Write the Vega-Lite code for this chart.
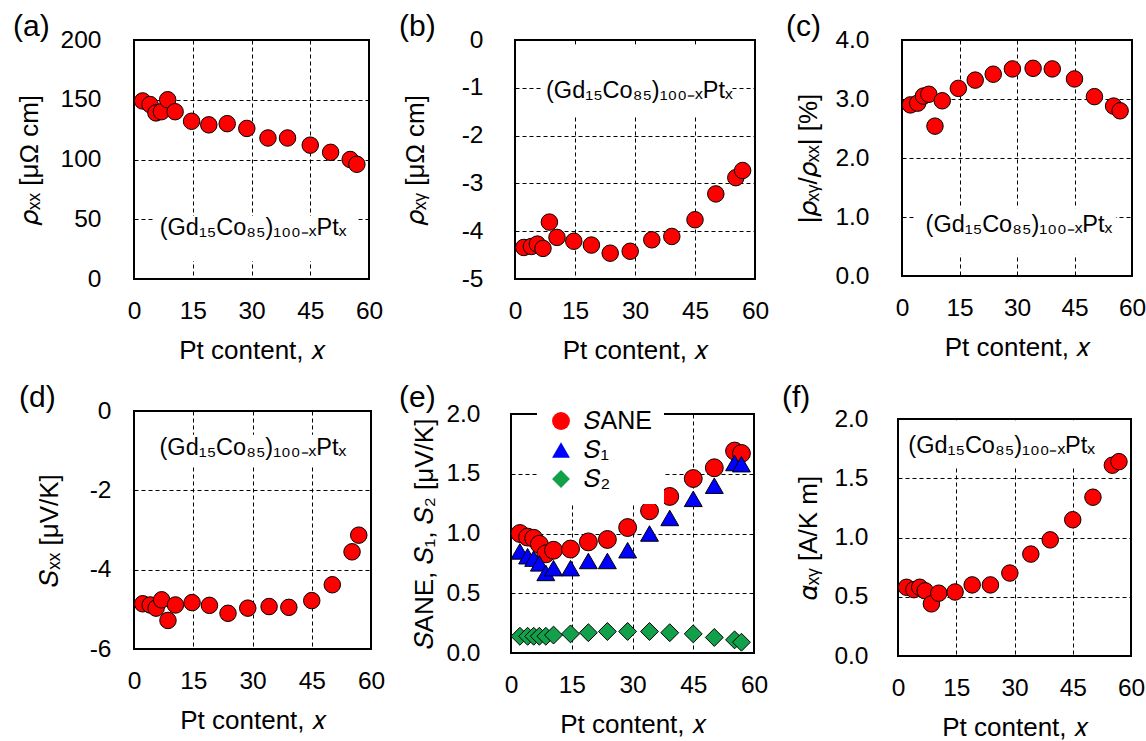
{
  "$schema": "https://vega.github.io/schema/vega-lite/v6.json",
  "padding": {"left": 12, "top": 11, "right": 0, "bottom": 0},
  "background": "white",
  "datasets": {
    "main": [
      {"x": 2.2, "rxx": 149, "rxy": -4.34, "ratio": 2.90, "sxx": -4.86, "axy": 0.58},
      {"x": 4.1, "rxx": 146, "rxy": -4.32, "ratio": 2.93, "sxx": -4.89, "axy": 0.56},
      {"x": 5.6, "rxx": 139, "rxy": -4.27, "ratio": 3.05, "sxx": -4.97, "axy": 0.58},
      {"x": 7.0, "rxx": 140, "rxy": -4.36, "ratio": 3.08, "sxx": -4.76, "axy": 0.55},
      {"x": 8.6, "rxx": 150, "rxy": -3.81, "ratio": 2.54, "sxx": -5.28, "axy": 0.44},
      {"x": 10.5, "rxx": 140, "rxy": -4.13, "ratio": 2.97, "sxx": -4.89, "axy": 0.53},
      {"x": 14.7, "rxx": 132, "rxy": -4.21, "ratio": 3.18, "sxx": -4.83, "axy": 0.54},
      {"x": 19.1, "rxx": 129, "rxy": -4.29, "ratio": 3.32, "sxx": -4.90, "axy": 0.60},
      {"x": 23.8, "rxx": 130, "rxy": -4.46, "ratio": 3.42, "sxx": -5.10, "axy": 0.60},
      {"x": 28.8, "rxx": 126, "rxy": -4.42, "ratio": 3.51, "sxx": -4.97, "axy": 0.70},
      {"x": 34.2, "rxx": 118, "rxy": -4.18, "ratio": 3.52, "sxx": -4.93, "axy": 0.86},
      {"x": 39.2, "rxx": 118, "rxy": -4.11, "ratio": 3.51, "sxx": -4.95, "axy": 0.98},
      {"x": 45.0, "rxx": 112, "rxy": -3.76, "ratio": 3.34, "sxx": -4.78, "axy": 1.15},
      {"x": 50.2, "rxx": 106, "rxy": -3.22, "ratio": 3.04, "sxx": -4.38, "axy": 1.34},
      {"x": 55.2, "rxx": 100, "rxy": -2.88, "ratio": 2.88, "sxx": -3.55, "axy": 1.61},
      {"x": 56.9, "rxx": 96, "rxy": -2.73, "ratio": 2.80, "sxx": -3.13, "axy": 1.64}
    ],
    "seebeck": [
      {"series": "SANE", "x": 2.2, "v": 1.00},
      {"series": "SANE", "x": 4.1, "v": 0.97},
      {"series": "SANE", "x": 5.6, "v": 0.96},
      {"series": "SANE", "x": 7.0, "v": 0.91},
      {"series": "SANE", "x": 8.6, "v": 0.83},
      {"series": "SANE", "x": 10.5, "v": 0.86},
      {"series": "SANE", "x": 14.7, "v": 0.87},
      {"series": "SANE", "x": 19.1, "v": 0.93},
      {"series": "SANE", "x": 23.8, "v": 0.95},
      {"series": "SANE", "x": 28.8, "v": 1.05},
      {"series": "SANE", "x": 34.2, "v": 1.19},
      {"series": "SANE", "x": 39.2, "v": 1.31},
      {"series": "SANE", "x": 45.0, "v": 1.46},
      {"series": "SANE", "x": 50.2, "v": 1.55},
      {"series": "SANE", "x": 55.2, "v": 1.69},
      {"series": "SANE", "x": 56.9, "v": 1.67},
      {"series": "S1", "x": 2.2, "v": 0.85},
      {"series": "S1", "x": 4.1, "v": 0.81},
      {"series": "S1", "x": 5.6, "v": 0.79},
      {"series": "S1", "x": 7.0, "v": 0.75},
      {"series": "S1", "x": 8.6, "v": 0.67},
      {"series": "S1", "x": 10.5, "v": 0.71},
      {"series": "S1", "x": 14.7, "v": 0.71},
      {"series": "S1", "x": 19.1, "v": 0.77},
      {"series": "S1", "x": 23.8, "v": 0.77},
      {"series": "S1", "x": 28.8, "v": 0.86},
      {"series": "S1", "x": 34.2, "v": 1.00},
      {"series": "S1", "x": 39.2, "v": 1.13},
      {"series": "S1", "x": 45.0, "v": 1.29},
      {"series": "S1", "x": 50.2, "v": 1.40},
      {"series": "S1", "x": 55.2, "v": 1.59},
      {"series": "S1", "x": 56.9, "v": 1.58},
      {"series": "S2", "x": 2.2, "v": 0.14},
      {"series": "S2", "x": 4.1, "v": 0.14},
      {"series": "S2", "x": 5.6, "v": 0.14},
      {"series": "S2", "x": 7.0, "v": 0.14},
      {"series": "S2", "x": 8.6, "v": 0.14},
      {"series": "S2", "x": 10.5, "v": 0.15},
      {"series": "S2", "x": 14.7, "v": 0.16},
      {"series": "S2", "x": 19.1, "v": 0.17},
      {"series": "S2", "x": 23.8, "v": 0.18},
      {"series": "S2", "x": 28.8, "v": 0.18},
      {"series": "S2", "x": 34.2, "v": 0.18},
      {"series": "S2", "x": 39.2, "v": 0.17},
      {"series": "S2", "x": 45.0, "v": 0.16},
      {"series": "S2", "x": 50.2, "v": 0.13},
      {"series": "S2", "x": 55.2, "v": 0.11},
      {"series": "S2", "x": 56.9, "v": 0.09}
    ]
  },
  "columns": 3,
  "align": "none",
  "spacing": {"row": 17, "column": 12},
  "resolve": {
    "scale": {"fill": "independent", "shape": "independent"},
    "legend": {"fill": "independent", "shape": "independent"}
  },
  "concat": [
    {
      "width": 235, "height": 239,
      "title": {"text": "(a)", "dx": -121, "dy": 19},
      "layer": [
        {
          "data": {"name": "main"},
          "mark": {"type": "point", "filled": true, "fill": "#FF0000", "stroke": "black", "strokeWidth": 1, "size": 272, "opacity": 1, "shape": "circle"},
          "encoding": {
            "x": {"field": "x", "type": "quantitative", "scale": {"domain": [0, 60], "nice": false, "zero": false}, "axis": {"values": [0, 15, 30, 45, 60], "title": "Pt content, 𝑥"}},
            "y": {"field": "rxx", "type": "quantitative", "scale": {"domain": [0, 200], "nice": false}, "axis": {"values": [0, 50, 100, 150, 200], "format": "d", "title": "𝜌ₓₓ [μΩ cm]", "labelPadding": 33, "titlePadding": 17.5}}
          }
        },
        {
          "data": {"values": [{}]},
          "mark": {"type": "rect", "fill": "white", "stroke": null},
          "encoding": {"x": {"datum": 4.9, "type": "quantitative"}, "x2": {"datum": 56.7}, "y": {"datum": 15, "type": "quantitative"}, "y2": {"datum": 52.7}}
        },
        {
          "data": {"values": [{}]},
          "mark": {"type": "text", "text": "(Gd₁₅Co₈₅)₁₀₀₋ₓPtₓ", "fontSize": 23.5, "baseline": "middle", "align": "center", "color": "black"},
          "encoding": {"x": {"datum": 30.4, "type": "quantitative"}, "y": {"datum": 43, "type": "quantitative"}}
        }
      ]
    },
    {
      "width": 240, "height": 239,
      "title": {"text": "(b)", "dx": -116, "dy": 19},
      "layer": [
        {
          "data": {"name": "main"},
          "mark": {"type": "point", "filled": true, "fill": "#FF0000", "stroke": "black", "strokeWidth": 1, "size": 272, "opacity": 1, "shape": "circle"},
          "encoding": {
            "x": {"field": "x", "type": "quantitative", "scale": {"domain": [0, 60], "nice": false, "zero": false}, "axis": {"values": [0, 15, 30, 45, 60], "title": "Pt content, 𝑥"}},
            "y": {"field": "rxy", "type": "quantitative", "scale": {"domain": [-5, 0], "nice": false}, "axis": {"values": [-5, -4, -3, -2, -1, 0], "format": "d", "title": "𝜌ₓᵧ [μΩ cm]", "labelPadding": 32, "titlePadding": 33}}
          }
        },
        {
          "data": {"values": [{}]},
          "mark": {"type": "rect", "fill": "white", "stroke": null},
          "encoding": {"x": {"datum": 6.8, "type": "quantitative"}, "x2": {"datum": 54.2}, "y": {"datum": -0.1, "type": "quantitative"}, "y2": {"datum": -1.57}}
        },
        {
          "data": {"values": [{}]},
          "mark": {"type": "text", "text": "(Gd₁₅Co₈₅)₁₀₀₋ₓPtₓ", "fontSize": 23.5, "baseline": "middle", "align": "center", "color": "black"},
          "encoding": {"x": {"datum": 31.1, "type": "quantitative"}, "y": {"datum": -1.06, "type": "quantitative"}}
        }
      ]
    },
    {
      "width": 230, "height": 236,
      "title": {"text": "(c)", "dx": -116, "dy": 19},
      "layer": [
        {
          "data": {"name": "main"},
          "mark": {"type": "point", "filled": true, "fill": "#FF0000", "stroke": "black", "strokeWidth": 1, "size": 272, "opacity": 1, "shape": "circle"},
          "encoding": {
            "x": {"field": "x", "type": "quantitative", "scale": {"domain": [0, 60], "nice": false, "zero": false}, "axis": {"values": [0, 15, 30, 45, 60], "title": "Pt content, 𝑥"}},
            "y": {"field": "ratio", "type": "quantitative", "scale": {"domain": [0, 4], "nice": false}, "axis": {"values": [0, 1, 2, 3, 4], "format": ".1f", "title": "|𝜌ₓᵧ/𝜌ₓₓ| [%]", "labelPadding": 33, "titlePadding": 13}}
          }
        },
        {
          "data": {"values": [{}]},
          "mark": {"type": "rect", "fill": "white", "stroke": null},
          "encoding": {"x": {"datum": 3.65, "type": "quantitative"}, "x2": {"datum": 55.8}, "y": {"datum": 0.36, "type": "quantitative"}, "y2": {"datum": 1.15}}
        },
        {
          "data": {"values": [{}]},
          "mark": {"type": "text", "text": "(Gd₁₅Co₈₅)₁₀₀₋ₓPtₓ", "fontSize": 23.5, "baseline": "middle", "align": "center", "color": "black"},
          "encoding": {"x": {"datum": 30.5, "type": "quantitative"}, "y": {"datum": 0.856, "type": "quantitative"}}
        }
      ]
    },
    {
      "width": 237, "height": 238,
      "title": {"text": "(d)", "dx": -115, "dy": 19},
      "layer": [
        {
          "data": {"name": "main"},
          "mark": {"type": "point", "filled": true, "fill": "#FF0000", "stroke": "black", "strokeWidth": 1, "size": 272, "opacity": 1, "shape": "circle"},
          "encoding": {
            "x": {"field": "x", "type": "quantitative", "scale": {"domain": [0, 60], "nice": false, "zero": false}, "axis": {"values": [0, 15, 30, 45, 60], "title": "Pt content, 𝑥"}},
            "y": {"field": "sxx", "type": "quantitative", "scale": {"domain": [-6, 0], "nice": false}, "axis": {"values": [-6, -4, -2, 0], "format": "d", "title": "𝑆ₓₓ [μV/K]", "labelPadding": 23, "titlePadding": 27}}
          }
        },
        {
          "data": {"values": [{}]},
          "mark": {"type": "rect", "fill": "white", "stroke": null},
          "encoding": {"x": {"datum": 5.7, "type": "quantitative"}, "x2": {"datum": 54}, "y": {"datum": -0.6, "type": "quantitative"}, "y2": {"datum": -1.41}}
        },
        {
          "data": {"values": [{}]},
          "mark": {"type": "text", "text": "(Gd₁₅Co₈₅)₁₀₀₋ₓPtₓ", "fontSize": 23.5, "baseline": "middle", "align": "center", "color": "black"},
          "encoding": {"x": {"datum": 30.1, "type": "quantitative"}, "y": {"datum": -0.945, "type": "quantitative"}}
        }
      ]
    },
    {
      "width": 243, "height": 239,
      "title": {"text": "(e)", "dx": -112, "dy": 20},
      "data": {"name": "seebeck"},
      "mark": {"type": "point", "filled": true, "stroke": "black", "strokeWidth": 1, "opacity": 1, "size": 320},
      "encoding": {
        "x": {"field": "x", "type": "quantitative", "scale": {"domain": [0, 60], "nice": false, "zero": false}, "axis": {"values": [0, 15, 30, 45, 60], "title": "Pt content, 𝑥"}},
        "y": {"field": "v", "type": "quantitative", "scale": {"domain": [0, 2], "nice": false}, "axis": {"values": [0, 0.5, 1, 1.5, 2], "format": ".1f", "title": "𝑆ANE, 𝑆₁, 𝑆₂ [μV/K]", "labelPadding": 31, "titlePadding": 8.5}},
        "fill": {"field": "series", "type": "nominal", "scale": {"domain": ["SANE", "S1", "S2"], "range": ["#FF0000", "#0000FF", "#12A04A"]},
          "legend": {"orient": "none", "legendX": 26, "legendY": -17, "title": null, "fillColor": "white", "padding": 11.5, "labelFontSize": 25, "labelOffset": 10, "symbolSize": 320, "symbolStrokeColor": "black", "symbolStrokeWidth": 1, "rowPadding": 3, "symbolOpacity": 1, "labelExpr": "datum.label == 'S1' ? '𝑆₁' : datum.label == 'S2' ? '𝑆₂' : '𝑆ANE'"}},
        "shape": {"field": "series", "type": "nominal", "scale": {"domain": ["SANE", "S1", "S2"], "range": ["circle", "triangle-up", "diamond"]},
          "legend": {"orient": "none", "legendX": 26, "legendY": -17, "title": null, "fillColor": "white", "padding": 11.5, "labelFontSize": 25, "labelOffset": 10, "symbolSize": 320, "symbolStrokeColor": "black", "symbolStrokeWidth": 1, "rowPadding": 3, "symbolOpacity": 1, "labelExpr": "datum.label == 'S1' ? '𝑆₁' : datum.label == 'S2' ? '𝑆₂' : '𝑆ANE'"}}
      }
    },
    {
      "width": 233, "height": 237,
      "title": {"text": "(f)", "dx": -116, "dy": 11},
      "layer": [
        {
          "data": {"name": "main"},
          "mark": {"type": "point", "filled": true, "fill": "#FF0000", "stroke": "black", "strokeWidth": 1, "size": 272, "opacity": 1, "shape": "circle"},
          "encoding": {
            "x": {"field": "x", "type": "quantitative", "scale": {"domain": [0, 60], "nice": false, "zero": false}, "axis": {"values": [0, 15, 30, 45, 60], "title": "Pt content, 𝑥"}},
            "y": {"field": "axy", "type": "quantitative", "scale": {"domain": [0, 2], "nice": false}, "axis": {"values": [0, 0.5, 1, 1.5, 2], "format": ".1f", "title": "𝛼ₓᵧ [A/K m]", "labelPadding": 30, "titlePadding": 12.5}}
          }
        },
        {
          "data": {"values": [{}]},
          "mark": {"type": "rect", "fill": "white", "stroke": null},
          "encoding": {"x": {"datum": 0.5, "type": "quantitative"}, "x2": {"datum": 51}, "y": {"datum": 1.59, "type": "quantitative"}, "y2": {"datum": 1.99}}
        },
        {
          "data": {"values": [{}]},
          "mark": {"type": "text", "text": "(Gd₁₅Co₈₅)₁₀₀₋ₓPtₓ", "fontSize": 23.5, "baseline": "middle", "align": "center", "color": "black"},
          "encoding": {"x": {"datum": 26.7, "type": "quantitative"}, "y": {"datum": 1.776, "type": "quantitative"}}
        }
      ]
    }
  ],
  "config": {
    "font": "Liberation Sans",
    "view": {"stroke": "black", "strokeWidth": 2},
    "axis": {"domain": false, "ticks": false, "grid": true, "gridColor": "black", "gridDash": [4, 3], "gridWidth": 1, "gridOpacity": 1, "labelFont": "Liberation Sans", "labelFontSize": 24.5, "labelColor": "black", "titleFont": "Liberation Sans", "titleFontSize": 26, "titleFontWeight": "normal", "titleColor": "black", "labelOverlap": false, "labelFlush": false},
    "axisX": {"labelPadding": 20, "titlePadding": 15},
    "legend": {"labelFont": "Liberation Sans", "labelColor": "black"},
    "title": {"fontSize": 30, "fontWeight": "normal", "font": "Liberation Sans", "anchor": "start", "frame": "group", "baseline": "alphabetic", "offset": 0, "color": "black"},
    "locale": {"number": {"decimal": ".", "thousands": ",", "grouping": [3], "currency": ["$", ""], "minus": "-"}}
  }
}
